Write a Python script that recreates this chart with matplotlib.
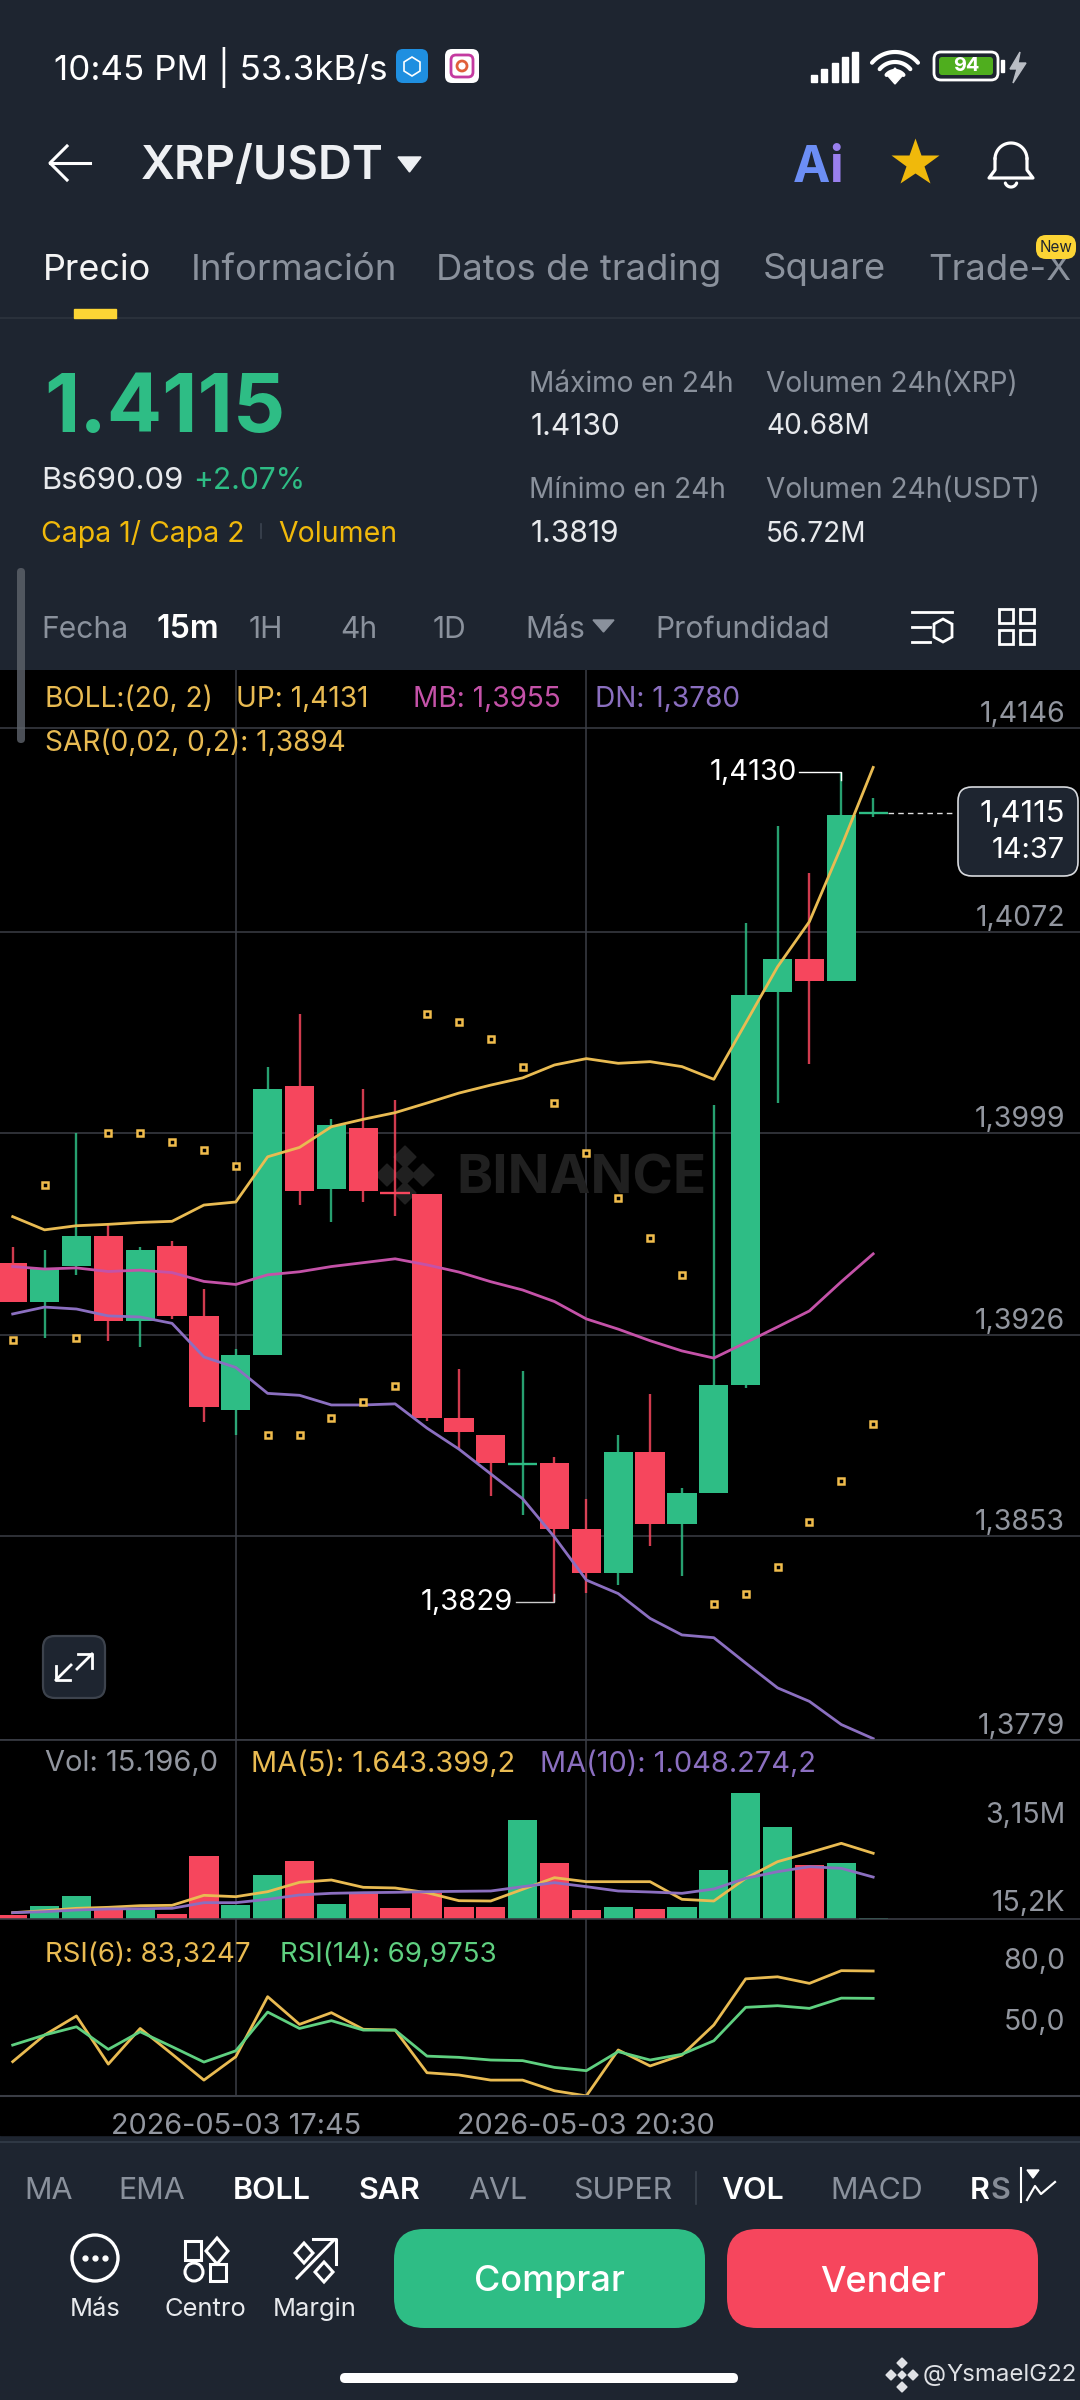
import numpy as np
import matplotlib
matplotlib.use("Agg")
import matplotlib.pyplot as plt
from matplotlib.patches import FancyBboxPatch, Rectangle, Polygon, Circle

plt.rcParams['font.family'] = ['Inter', 'DejaVu Sans']

# candles, oldest first
opens = [1.3952, 1.39378, 1.39509, 1.39618, 1.39308, 1.3958, 1.39328, 1.38987, 1.39187, 1.40162, 1.39789, 1.4001, 1.39777, 1.39769,
         1.38957, 1.38895, 1.38785, 1.38794, 1.38554, 1.38395, 1.38836, 1.38575, 1.38685, 1.39076, 1.40504, 1.40623, 1.40544, 1.41145]
closes = [1.39378, 1.39498, 1.39618, 1.39308, 1.39568, 1.39328, 1.38998, 1.39186, 1.40151, 1.39781, 1.4002, 1.39781, 1.39772, 1.38957,
          1.38907, 1.38796, 1.3879, 1.38554, 1.38395, 1.38836, 1.38575, 1.38685, 1.39076, 1.40492, 1.40623, 1.40544, 1.41144, 1.4115]
highs = [1.39577, 1.39567, 1.39991, 1.3966, 1.39577, 1.396, 1.39427, 1.39207, 1.40232, 1.40422, 1.40041, 1.4015, 1.40111, 1.39769,
         1.39137, 1.38895, 1.39128, 1.38815, 1.38665, 1.38896, 1.39045, 1.38704, 1.40093, 1.40754, 1.41106, 1.40935, 1.4130, 1.41205]
lows = [1.39378, 1.39248, 1.39477, 1.39237, 1.39217, 1.39317, 1.38945, 1.38897, 1.39187, 1.39729, 1.3967, 1.39741, 1.39691, 1.38947,
        1.38845, 1.38676, 1.38606, 1.3829, 1.38324, 1.38353, 1.38494, 1.38385, 1.38685, 1.39068, 1.40101, 1.40241, 1.40544, 1.41138]

boll_up = [1.39688, 1.3964, 1.39655, 1.3966, 1.39667, 1.39671, 1.3973, 1.39741, 1.39905, 1.39939, 1.40014, 1.40041, 1.40065, 1.401,
           1.40136, 1.40165, 1.40191, 1.40238, 1.40261, 1.40244, 1.4025, 1.40232, 1.40186, 1.4039, 1.40594, 1.40758, 1.4103, 1.41317]
boll_mb = [1.39507, 1.39498, 1.39502, 1.39489, 1.39494, 1.39485, 1.39453, 1.39442, 1.39477, 1.39488, 1.39507, 1.39521, 1.39535, 1.39513,
           1.39487, 1.39452, 1.39422, 1.3938, 1.39317, 1.3928, 1.39238, 1.39201, 1.39175, 1.39231, 1.39288, 1.39346, 1.39452, 1.39553]
boll_dn = [1.39335, 1.3936, 1.39353, 1.39328, 1.39324, 1.39301, 1.39179, 1.39141, 1.39047, 1.3904, 1.39005, 1.39005, 1.39009, 1.38921,
           1.38845, 1.38755, 1.38665, 1.38526, 1.3837, 1.38321, 1.38231, 1.38171, 1.38161, 1.38069, 1.37979, 1.3793, 1.37846, 1.37795]
sar = [1.39241, 1.39801, 1.39248, 1.3999, 1.3999, 1.3996, 1.3993, 1.39872, 1.38896, 1.38896, 1.38958, 1.39016, 1.39072, 1.40423,
       1.40393, 1.40331, 1.40232, 1.40101, 1.3992, 1.39757, 1.39609, 1.39477, 1.38283, 1.3832, 1.38417, 1.38579, 1.3873, 1.38936]

volume = [100000, 317000, 575000, 225000, 267000, 133000, 1567000, 342000, 1092000, 1450000, 375000, 667000, 267000, 650000,
          300000, 308000, 2467000, 1392000, 225000, 300000, 242000, 300000, 1217000, 3150000, 2290000, 1358000, 1392000, 15196]
vol_ma5 = [158000, 208000, 267000, 292000, 333000, 342000, 592000, 558000, 683000, 917000, 975000, 792000, 775000, 658000,
           458000, 450000, 742000, 1033000, 933000, 933000, 933000, 492000, 450000, 1017000, 1433000, 1658000, 1892000, 1643399]
vol_ma10 = [158000, 183000, 225000, 250000, 258000, 267000, 408000, 408000, 492000, 600000, 642000, 658000, 667000, 683000,
            692000, 700000, 808000, 908000, 808000, 700000, 675000, 642000, 750000, 1017000, 1183000, 1308000, 1267000, 1048274]

rsi6 = [39.1, 52.1, 61.4, 37.9, 55.3, 42.8, 30.1, 41.5, 70.8, 57.3, 63.0, 54.9, 54.5, 33.7,
        32.6, 30.1, 30.1, 24.9, 22.4, 44.8, 37.0, 42.3, 57.0, 79.5, 80.5, 77.3, 83.5, 83.32]
rsi14 = [47.2, 52.1, 56.1, 45.1, 53.7, 46.4, 38.9, 44.4, 63.3, 55.3, 59.1, 54.5, 54.5, 41.8,
         41.2, 39.9, 39.6, 36.3, 34.7, 44.0, 39.9, 42.7, 49.3, 65.6, 66.4, 65.1, 70.1, 69.98]

price_ticks = [1.4146, 1.4072, 1.3999, 1.3926, 1.3853, 1.3779]
price_tick_labels = ['1,4146', '1,4072', '1,3999', '1,3926', '1,3853', '1,3779']
date_ticks = [7, 18]
date_labels = ['2026-05-03 17:45', '2026-05-03 20:30']

BG = '#1e2530'
GREEN = '#2ebd85'
RED = '#f6465d'
YEL = '#e9bb52'
PINK = '#c452a8'
PURP = '#8b6fc0'
RSIG = '#5fd080'
GRID = '#3b3e46'
GREY = '#8a919c'
LBL = '#92969f'

W, H = 1080, 2400
fig = plt.figure(figsize=(W / 100, H / 100), dpi=100, facecolor=BG)


def pane(top, bottom):
    ax = fig.add_axes([0, 1 - bottom / H, 1, (bottom - top) / H], facecolor='black', zorder=2)
    ax.set_xlim(-0.3985, 33.49)
    for s in ax.spines.values():
        s.set_visible(False)
    ax.set_yticks([])
    ax.set_xticks(date_ticks)
    ax.set_xticklabels([])
    ax.tick_params(length=0)
    ax.grid(axis='x', color=GRID, lw=1.1, zorder=0)
    ax.set_axisbelow(True)
    return ax


def right_label(ax, val, s, dy):
    ax.annotate(s, xy=(1, val), xycoords=ax.get_yaxis_transform(), xytext=(-15, dy), textcoords='offset pixels',
                ha='right', va='baseline', color=LBL, fontsize=20.5, annotation_clip=False, zorder=8)


back = fig.add_axes([0, 0, 1, 1], zorder=0)
back.set_xlim(0, W)
back.set_ylim(H, 0)
back.axis('off')
back.add_patch(Rectangle((0, 2096), W, 39, color='black'))

ax = pane(670, 1740)
axv = pane(1740, 1919)
axr = pane(1919, 2096.3)
x = np.arange(len(opens))

# price pane
ax.set_ylim(1.3779, 1.416703)
for t in price_ticks:
    ax.axhline(t, color=GRID, lw=1.1, zorder=0)
for t, s in zip(price_ticks, price_tick_labels):
    right_label(ax, t, s, 6)

# watermark behind the candles
ax.text(456 / W, 1 - (1180 - 670) / 1070, 'BINANCE', color='#202020', fontsize=39.5, fontweight='bold', ha='left', va='center',
        transform=ax.transAxes, zorder=1)
for cx, cy, r in [(405, 1157, 11), (405, 1193, 11), (387, 1175, 11), (423, 1175, 11), (405, 1175, 10)]:
    dx = np.array([cx - r, cx, cx + r, cx]) / W
    dy = 1 - (np.array([cy, cy - r, cy, cy + r]) - 670) / 1070
    ax.add_patch(Polygon(np.column_stack([dx, dy]), transform=ax.transAxes, color='#202020', zorder=1))

for i in x:
    col = GREEN if closes[i] >= opens[i] else RED
    ax.vlines(i, lows[i], highs[i], color=col, lw=1.7, alpha=0.85, zorder=3)
    top, bot = max(opens[i], closes[i]), min(opens[i], closes[i])
    if top - bot < 0.0001:
        ax.hlines(closes[i], i - 0.46, i + 0.46, color=col, lw=1.7, zorder=3)
    else:
        ax.bar(i, top - bot, bottom=bot, width=0.92, color=col, linewidth=0, zorder=3)

ax.plot(x, boll_up, color=YEL, lw=2, zorder=4)
ax.plot(x, boll_mb, color=PINK, lw=2, zorder=4)
ax.plot(x, boll_dn, color=PURP, lw=2, zorder=4)
ax.plot(x, sar, ls='none', marker='s', ms=4.2, mfc='black', mec='#f0bc4c', mew=1.8, zorder=5)

# high and low notes
hi = int(np.argmax(highs))
lo = int(np.argmin(lows))
ax.plot([hi - 1.33, hi, hi], [highs[hi], highs[hi], highs[hi] - 0.0003], color='white', lw=1, zorder=6)
ax.text(hi - 1.4, highs[hi], '1,4130', color='white', fontsize=21, ha='right', va='center', zorder=6)
ax.plot([lo - 1.2, lo, lo], [lows[lo], lows[lo], lows[lo] + 0.0003], color='#cccccc', lw=1, zorder=6)
ax.text(lo - 1.3, lows[lo], '1,3829', color='white', fontsize=21, ha='right', va='center', zorder=6)

# last price line
ax.plot([x[-1] + 0.46, 29.6], [closes[-1], closes[-1]], color='#dddddd', lw=1, ls=(0, (4, 3)), zorder=5)

# volume pane
axv.set_ylim(0, 4475000)
axv.bar(x, volume, width=0.92, color=[GREEN if c >= o else RED for o, c in zip(opens, closes)], linewidth=0, zorder=3)
axv.plot(x, vol_ma5, color=YEL, lw=2, zorder=4)
axv.plot(x, vol_ma10, color=PURP, lw=2, zorder=4)
right_label(axv, 3150000, '3,15M', -30)
right_label(axv, 15196, '15,2K', 7)

# rsi pane
axr.set_ylim(22.2, 108.7)
axr.plot(x, rsi6, color=YEL, lw=2, zorder=4)
axr.plot(x, rsi14, color=RSIG, lw=2, zorder=4)
right_label(axr, 80, '80,0', 9)
right_label(axr, 50, '50,0', 9)
axr.set_xticklabels(date_labels, color=LBL, fontsize=20.8)
axr.tick_params(axis='x', pad=12)

# everything else is app chrome, in screen pixels
ui = fig.add_axes([0, 0, 1, 1], zorder=10, facecolor='none')
ui.set_xlim(0, W)
ui.set_ylim(H, 0)
ui.axis('off')


def txt(px, py, s, size, color='white', ha='left', weight='normal', **kw):
    # va center sits a bit high for this font
    ui.text(px, py + 3, s, fontsize=size * 0.72, color=color, ha=ha, va='center', fontweight=weight, **kw)


def rbox(x0, y0, w, h, r, fc, ec='none', lw=0, z=3):
    ui.add_patch(FancyBboxPatch((x0 + r, y0 + r), w - 2 * r, h - 2 * r, boxstyle=f'round,pad={r},rounding_size={r}',
                                fc=fc, ec=ec, lw=lw, zorder=z))


def arc(cx, cy, r, a0, a1, color='white', lw=2.5):
    t = np.radians(np.linspace(a0, a1, 40))
    ui.plot(cx + r * np.cos(t), cy + r * np.sin(t), color=color, lw=lw, solid_capstyle='round')


# hline between panes
ui.plot([0, W], [1740, 1740], color='#3a3d45', lw=1.2)
ui.plot([0, W], [1919, 1919], color='#3a3d45', lw=1.2)
ui.plot([0, W], [2096, 2096], color='#3a3d45', lw=1.5)
ui.plot([0, W], [2142, 2142], color='#2f3844', lw=1.5)

# status bar
txt(54, 65, '10:45 PM | 53.3kB/s', 35)
rbox(396, 49, 32, 34, 7, '#1f8fe0')
ui.add_patch(Polygon([(412, 57), (420, 62), (420, 71), (412, 76), (404, 71), (404, 62)], fc='none', ec='white', lw=1.2, zorder=4))
rbox(445, 49, 34, 34, 7, 'white')
rbox(451, 55, 22, 22, 5, 'none', ec='#c43aa0', lw=2, z=4)
ui.add_patch(Circle((462, 66), 5, fc='none', ec='#e0603a', lw=2, zorder=4))
for k, hgt in enumerate([7, 13, 19, 25, 30]):
    ui.add_patch(Rectangle((811 + k * 10.3, 82 - hgt), 6, hgt, color='white'))
for r, lw_ in [(30, 3), (20, 3), (11, 3)]:
    arc(895, 82, r, -140, -40, lw=lw_)
ui.add_patch(Polygon([(888, 76), (895, 68), (902, 76), (895, 84)], color='white'))
rbox(934, 52, 64, 28, 7, 'none', ec='white', lw=2)
rbox(939, 57, 54, 18, 3, '#4fae1e')
txt(966, 63, '94', 20, ha='center', weight='bold')
ui.add_patch(Rectangle((1001, 60), 3, 12, color='white'))
ui.add_patch(Polygon([(1020, 52), (1010, 69), (1017, 69), (1013, 83), (1026, 63), (1018, 63)], color='#b9bdc4'))

# nav bar
ui.plot([50, 90], [163, 163], color='white', lw=2.2)
ui.plot([67, 50, 67], [146, 163, 180], color='white', lw=2.2)
txt(141, 164, 'XRP/USDT', 47, weight='semibold', color='#eef0f3')
ui.add_patch(Polygon([(398, 157), (421, 157), (409.5, 172)], color='#eef0f3'))
txt(793, 165, 'A', 50, color='#6c8ef5', weight='bold')
txt(829, 165, 'i', 50, color='#9a80ee', weight='bold')
ui.plot([915], [163], marker='*', ms=36, color='#f0b90b', mec='none')
arc(1011, 159, 16, 180, 360, lw=2.3)
ui.plot([995, 995, 989, 1033, 1027, 1027], [159, 170, 178, 178, 170, 159], color='white', lw=2.3)
arc(1011, 181, 6, 20, 160, lw=2.3)

# tabs
txt(43, 267, 'Precio', 36, color='#f5f5f5')
for px, s in [(191, 'Información'), (436, 'Datos de trading'), (763, 'Square'), (928, 'Trade-X')]:
    txt(px, 267, s, 36.5, color=GREY)
ui.add_patch(Rectangle((74, 309), 42, 9, color='#fcd535', zorder=4))
ui.plot([0, W], [318, 318], color='#2d343e', lw=1.2)
rbox(1036, 235, 40, 24, 10, '#fcd535', z=5)
ui.text(1056, 247, 'New', fontsize=11, color='#1e2530', ha='center', va='center', zorder=6)

# price header
txt(44, 408, '1.4115', 82, color=GREEN, weight='bold')
txt(41, 478, 'Bs690.09', 31, color='#e8eaed')
txt(193, 478, '+2.07%', 30, color=GREEN)
txt(41, 531, 'Capa 1/ Capa 2', 28.4, color='#f0b90b')
ui.plot([261, 261], [524, 538], color='#3c4450', lw=1.2)
txt(278, 531, 'Volumen', 28.4, color='#f0b90b')
for px, py, s in [(529, 381, 'Máximo en 24h'), (529, 488, 'Mínimo en 24h'), (766, 381, 'Volumen 24h(XRP)'), (766, 488, 'Volumen 24h(USDT)')]:
    txt(px, py, s, 28, color=GREY)
for px, py, s in [(531, 424, '1.4130'), (531, 531, '1.3819')]:
    txt(px, py, s, 30, color='#e8eaed')
for px, py, s in [(766, 424, '40.68M'), (766, 531, '56.72M')]:
    txt(px, py, s, 28, color='#e8eaed')

# interval row
for px, s in [(41, 'Fecha'), (249, '1H'), (340, '4h'), (433, '1D'), (525, 'Más'), (655, 'Profundidad')]:
    txt(px, 627, s, 30, color=GREY)
txt(156, 627, '15m', 32, weight='semibold')
ui.add_patch(Polygon([(593, 620), (614, 620), (603.5, 632)], color=GREY))
for yy, x0, x1 in [(612, 912, 952), (627, 912, 930), (642, 912, 930)]:
    ui.plot([x0, x1], [yy, yy], color='white', lw=2)
ui.add_patch(Polygon([(934, 624), (943, 619), (952, 624), (952, 637), (943, 642), (934, 637)], fc='none', ec='white', lw=2))
for bx, by in [(999, 609), (1020, 609), (999, 630), (1020, 630)]:
    ui.add_patch(Rectangle((bx, by), 14, 14, fc='none', ec='white', lw=2))
ui.add_patch(FancyBboxPatch((17, 568), 8, 175, boxstyle='round,pad=0,rounding_size=4', fc='#5f646c', ec='none', alpha=0.8, zorder=6))

# indicator titles
txt(45, 696, 'BOLL:(20, 2)', 28, color=YEL)
txt(236, 696, 'UP: 1,4131', 28, color=YEL)
txt(413, 696, 'MB: 1,3955', 28, color=PINK)
txt(595, 696, 'DN: 1,3780', 28, color=PURP)
txt(45, 740, 'SAR(0,02, 0,2): 1,3894', 28, color=YEL)
txt(45, 1761, 'Vol: 15.196,0', 29, color=LBL)
txt(251, 1761, 'MA(5): 1.643.399,2', 29, color=YEL)
txt(540, 1761, 'MA(10): 1.048.274,2', 29, color=PURP)
txt(45, 1952, 'RSI(6): 83,3247', 27.7, color=YEL)
txt(280, 1952, 'RSI(14): 69,9753', 27.7, color=RSIG)

# last price box
rbox(958, 787, 120, 89, 14, BG, ec='#d8dade', lw=1.2)
txt(1065, 811, '1,4115', 31, ha='right', zorder=6)
txt(1065, 848, '14:37', 29, ha='right', zorder=6)

# expand button
rbox(43, 1636, 62, 62, 12, BG, ec='#3d434d', lw=1.6)
ui.plot([78, 92, 92], [1654, 1654, 1668], color='white', lw=2, zorder=5)
ui.plot([77, 92], [1669, 1654], color='white', lw=2, zorder=5)
ui.plot([56, 56, 70], [1666, 1680, 1680], color='white', lw=2, zorder=5)
ui.plot([56, 71], [1680, 1665], color='white', lw=2, zorder=5)

# indicator tabs
for px, s in [(24, 'MA'), (118, 'EMA'), (468, 'AVL'), (573, 'SUPER'), (830, 'MACD')]:
    txt(px, 2188, s, 30.5, color=GREY)
for px, s in [(233, 'BOLL'), (358, 'SAR'), (721, 'VOL')]:
    txt(px, 2188, s, 30.5, weight='semibold')
txt(970, 2188, 'R', 30.5, weight='semibold')
txt(991, 2188, 'S', 30.5, weight='semibold', color='#868c96')
ui.plot([696, 696], [2172, 2204], color='#3a424e', lw=1.2)
ui.plot([1021, 1021], [2168, 2202], color='white', lw=1.5)
ui.add_patch(Polygon([(1027, 2170), (1039, 2170), (1033, 2178)], color='white'))
ui.plot([1027, 1035, 1041, 1055], [2200, 2186, 2194, 2182], color='white', lw=1.6)

# bottom icons
ui.add_patch(Circle((95, 2258), 23, fc='none', ec='white', lw=2.4))
ui.plot([85, 95, 105], [2258, 2258, 2258], ls='none', marker='o', ms=3.5, color='white')
ui.add_patch(Rectangle((185, 2241), 16, 19, fc='none', ec='white', lw=2.2))
ui.add_patch(Polygon([(217, 2238), (228, 2251), (217, 2264), (206, 2251)], fc='none', ec='white', lw=2.2))
ui.add_patch(Circle((194, 2272), 9, fc='none', ec='white', lw=2.2))
ui.add_patch(Rectangle((210, 2264), 16, 17, fc='none', ec='white', lw=2.2))
ui.plot([297, 333], [2278, 2241], color='white', lw=2.2)
ui.plot([313, 336, 336], [2239, 2239, 2264], color='white', lw=2.2)
ui.add_patch(Polygon([(304, 2243), (313, 2253), (304, 2263), (295, 2253)], fc='none', ec='white', lw=2.2))
ui.add_patch(Polygon([(324, 2262), (333, 2272), (324, 2282), (315, 2272)], fc='none', ec='white', lw=2.2))
for px, s in [(95, 'Más'), (205, 'Centro'), (315, 'Margin')]:
    txt(px, 2306, s, 25.5, ha='center', color='#e8eaed')

rbox(394, 2229, 311, 99, 30, GREEN)
rbox(727, 2229, 311, 99, 30, RED)
txt(549, 2279, 'Comprar', 36, ha='center', weight='medium', zorder=6)
txt(883, 2279, 'Vender', 36, ha='center', weight='medium', zorder=6)

rbox(340, 2373, 398, 10, 5, 'white')
txt(923, 2372, '@', 24, color='#dfe1e5')
txt(946, 2372, 'YsmaelG22', 24, color='#dfe1e5')
for cx, cy, r in [(902, 2363, 5), (902, 2387, 5), (891, 2375, 5), (913, 2375, 5), (902, 2375, 4)]:
    ui.add_patch(Polygon([(cx - r, cy), (cx, cy - r), (cx + r, cy), (cx, cy + r)], color='#dfe1e5'))

fig.savefig('out.png', dpi=100, facecolor=BG)
